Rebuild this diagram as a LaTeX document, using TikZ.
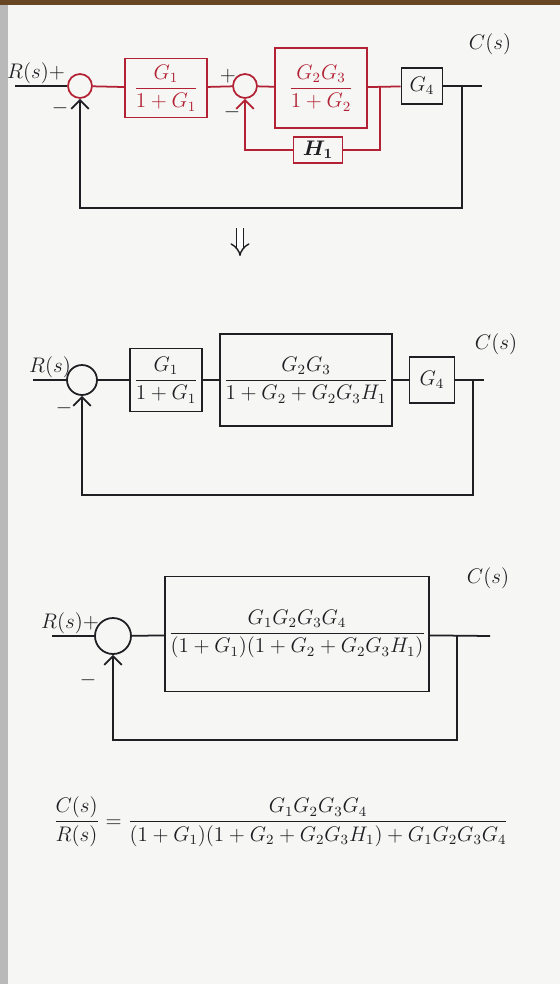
\documentclass[tikz,border=0pt]{standalone}
\usepackage{amsmath}
\usetikzlibrary{arrows.meta}
\definecolor{inkred}{RGB}{178,34,52}
\definecolor{ink}{RGB}{30,30,35}
\definecolor{paper}{RGB}{246,246,244}
\tikzstyle{blk}=[draw, rectangle, inner sep=2pt, font=\large]
\tikzstyle{summ}=[circle, draw, inner sep=0pt]
\tikzstyle{lbl}=[inner sep=1pt, font=\large]

\begin{document}
\begin{tikzpicture}[x=0.02cm, y=-0.02cm, line width=1pt, color=ink, >={Straight Barb[length=5pt]}]
    % paper
    \fill[paper] (0,0) rectangle (560,984);
    \fill[gray!55] (0,0) rectangle (8,984);
    \fill[brown!55!black] (0,0) rectangle (560,5);

    % first diagram
    \coordinate (in1) at (15,86);
    \coordinate (p1) at (380,86);
    \coordinate (p2) at (462,86);
    \coordinate (out1) at (482,86);
    \node[summ, inkred, minimum size=0.48cm] (s1) at (80,86) {};
    \node[summ, inkred, minimum size=0.48cm] (s2) at (245,86) {};
    \node[blk, inkred, minimum width=1.64cm, minimum height=1.18cm] (g1) at (166,88) {$\dfrac{G_1}{1+G_1}$};
    \node[blk, inkred, minimum width=1.84cm, minimum height=1.6cm] (g23) at (321,88) {$\dfrac{G_2G_3}{1+G_2}$};
    \node[blk, minimum width=0.82cm, minimum height=0.72cm] (g4) at (422,86) {$G_4$};
    \node[blk, draw=inkred, minimum width=0.98cm, minimum height=0.52cm] (h1) at (318,150) {$\boldsymbol{H_1}$};
    \draw (in1) -- (s1);
    \draw[inkred] (s1) -- (g1);
    \draw[inkred] (g1) -- (s2);
    \draw[inkred] (s2) -- (g23);
    \draw[inkred] (g23) -- (g4);
    \draw (g4) -- (out1);
    \draw[inkred] (p1) |- (h1.east);
    \draw[inkred, ->] (h1.west) -| (s2.south);
    \draw[->] (p2) -- ++(0,122) -| (s1.south);
    \node[lbl] at (36,73) {$R(s)+$};
    \node[lbl] at (60,108) {$-$};
    \node[lbl] at (228,76) {$+$};
    \node[lbl] at (232,112) {$-$};
    \node[lbl] at (490,44) {$C(s)$};

    \draw[line width=0.8pt, double, double distance=3pt, -Implies] (240,228) -- (240,256);

    % second diagram
    \coordinate (in2) at (33,380);
    \coordinate (p3) at (473,380);
    \coordinate (out2) at (484,380);
    \node[summ, minimum size=0.6cm] (s3) at (82,380) {};
    \node[blk, minimum width=1.34cm, minimum height=1.26cm] (g1b) at (166,380) {$\dfrac{G_1}{1+G_1}$};
    \node[blk, minimum width=3.24cm, minimum height=1.84cm] (g23b) at (306,380) {$\dfrac{G_2G_3}{1+G_2+G_2G_3H_1}$};
    \node[blk, minimum width=0.9cm, minimum height=0.92cm] (g4b) at (432,380) {$G_4$};
    \draw (in2) -- (s3);
    \draw (s3) -- (g1b);
    \draw (g1b) -- (g23b);
    \draw (g23b) -- (g4b);
    \draw (g4b) -- (out2);
    \draw[->] (p3) -- ++(0,115) -| (s3.south);
    \node[lbl] at (50,367) {$R(s)$};
    \node[lbl] at (64,408) {$-$};
    \node[lbl] at (496,344) {$C(s)$};

    % third diagram
    \coordinate (in3) at (52,636);
    \coordinate (p4) at (457,636);
    \coordinate (out3) at (490,636);
    \node[summ, minimum size=0.72cm] (s4) at (113,636) {};
    \node[blk, minimum width=5.22cm, minimum height=2.3cm] (gall) at (297,634) {$\dfrac{G_1G_2G_3G_4}{(1+G_1)(1+G_2+G_2G_3H_1)}$};
    \draw (in3) -- (s4);
    \draw (s4) -- (gall);
    \draw (gall) -- (out3);
    \draw[->] (p4) -- ++(0,104) -| (s4.south);
    \node[lbl] at (70,623) {$R(s)+$};
    \node[lbl] at (88,680) {$-$};
    \node[lbl] at (488,578) {$C(s)$};

    % result
    \node[lbl] (eq) at (281,822) {$\dfrac{C(s)}{R(s)}=\dfrac{G_1G_2G_3G_4}{(1+G_1)(1+G_2+G_2G_3H_1)+G_1G_2G_3G_4}$};
\end{tikzpicture}
\end{document}
